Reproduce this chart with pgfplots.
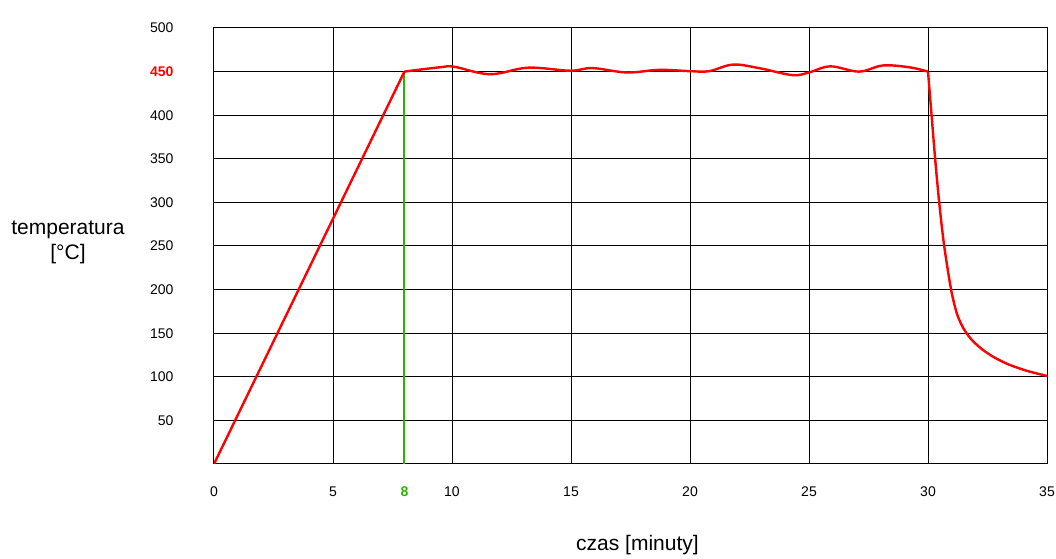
\documentclass[border=0pt]{standalone}
\usepackage{pgfplots}
\pgfplotsset{compat=1.18}
\usepackage{fontspec}
\setmainfont{Liberation Sans}
\definecolor{curvered}{RGB}{255,0,0}
\definecolor{markgreen}{RGB}{40,180,0}

\begin{document}
\begin{tikzpicture}
\begin{axis}[
    ,scale only axis
    ,width          = 833pt
    ,height         = 436pt
    ,xmin = 0, xmax = 35
    ,ymin = 0, ymax = 500
    ,xtick          = {0,5,10,15,20,25,30,35}
    ,xticklabels    = {0,5,10,15,20,25,30,35}
    ,extra x ticks  = {8}
    ,extra x tick labels = {\textcolor{markgreen}{\textbf{8}}}
    ,extra x tick style  = {grid=none}
    ,ytick          = {50,100,...,500}
    ,yticklabels    = {50,100,150,200,250,300,350,400,\textcolor{red}{\textbf{450}},500}
    ,grid           = major
    ,major grid style = {black, line width=1pt}
    ,major tick length = 0pt
    ,axis line style = {black, line width=1pt}
    ,tick label style = {font=\fontsize{14}{16}\selectfont}
    ,xticklabel style = {yshift=-19pt, inner xsep=0pt}
    ,yticklabel style = {xshift=-37pt}
    ,xlabel         = {czas [minuty]}
    ,ylabel         = {temperatura\\\relax [°C]}
    ,every axis x label/.style = {at={(axis description cs:0.5,0)}, anchor=center,
                                  yshift=-81pt, xshift=7pt, font=\fontsize{21}{24}\selectfont}
    ,every axis y label/.style = {at={(axis description cs:0,0.5)}, anchor=center, align=center,
                                  xshift=-146pt, yshift=4pt, font=\fontsize{21}{25}\selectfont}
    ]
    % marker at 8 minutes
    \addplot [markgreen, line width=2pt] coordinates {(8,0) (8,450)};
    % heating ramp
    \addplot [curvered, line width=2.4pt] coordinates {(0,0) (8,450)};
    % holding around 450
    \addplot [curvered, line width=2.4pt, smooth, tension=0.6] coordinates {
        (8,450) (9.5,455) (10.1,455.5) (11.6,447) (13.2,454.5) (14.96,451)
        (15.9,454) (17.35,449) (18.7,452) (20,450.5) (20.8,450.5) (21.8,458)
        (22.9,454) (24.3,446) (25.0,449) (25.9,456) (27.1,450) (28.1,457)
        (29.2,455) (30,450)};
    % cooling
    \addplot [curvered, line width=2.4pt, smooth, tension=0.5] coordinates {
        (30,450) (30.15,400) (30.3,350) (30.47,300) (30.68,250) (30.97,200)
        (31.22,172) (31.5,155) (31.85,142) (32.3,131) (32.8,122) (33.4,114)
        (34.2,106.5) (35,101)};
\end{axis}
\path ([xshift=-214pt,yshift=-90pt]current axis.south west)
      rectangle ([xshift=9pt,yshift=28pt]current axis.north east);
\end{tikzpicture}
\end{document}
